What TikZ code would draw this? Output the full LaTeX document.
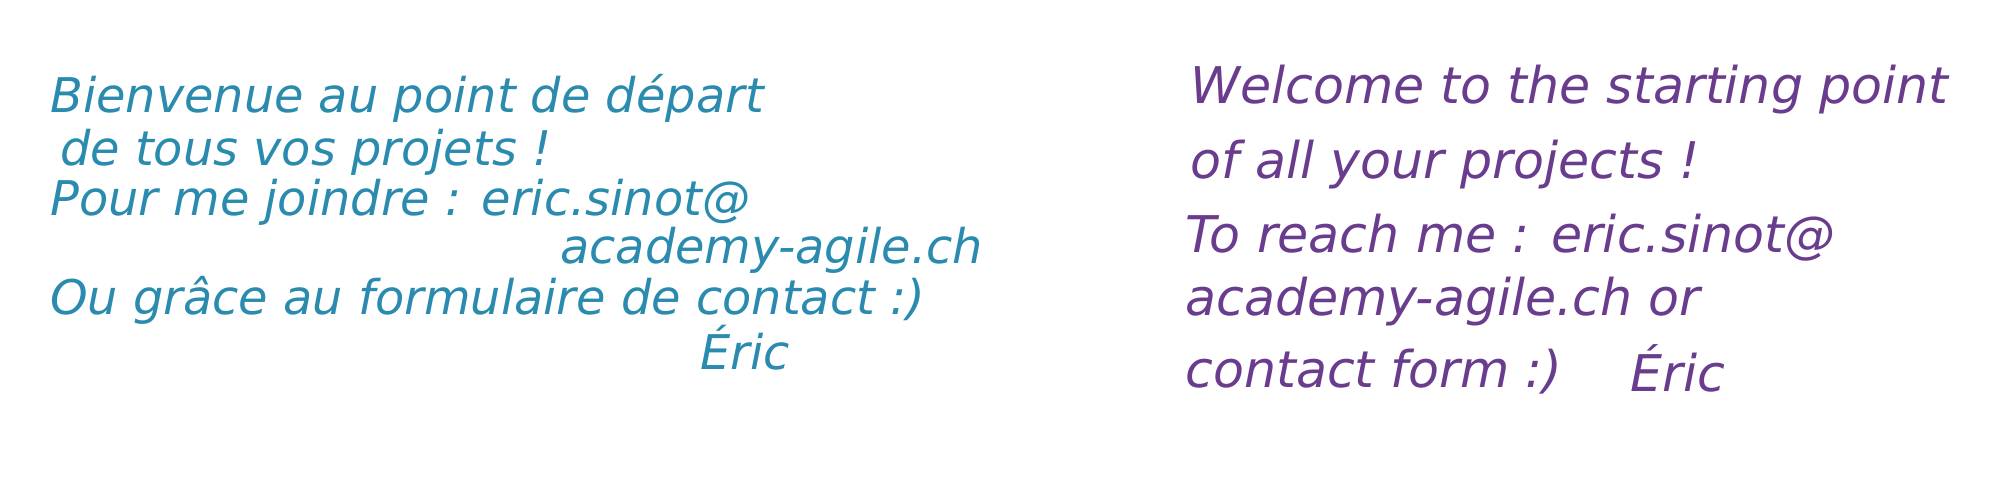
\documentclass[tikz,border=0pt]{standalone}
\usepackage{fontspec}
\setmainfont{DejaVu Sans}
\usetikzlibrary{positioning}
\definecolor{fr}{HTML}{2A8BAE}
\definecolor{en}{HTML}{6A3C8E}
\begin{document}
\begin{tikzpicture}[x=0.025cm, y=-0.025cm,
    frtext/.style={anchor=west, inner sep=0pt, text=fr, font=\fontsize{34}{40}\selectfont\itshape},
    entext/.style={anchor=west, inner sep=0pt, text=en, font=\fontsize{36}{44}\selectfont\itshape}
]
\useasboundingbox (0,0) rectangle (2000,491);

% french message
\node[frtext] (fr1) at (50,98) {Bienvenue au point de départ};
\node[frtext] (fr2) at (60,152) {de tous vos projets !};
\node[frtext] (fr3) at (50,202) {Pour me joindre : eric.sinot@};
\node[frtext] (fr4) at (560,250) {academy-agile.ch};
\node[frtext] (fr5) at (50,300) {Ou grâce au formulaire de contact :)};
\node[frtext] (fr6) at (700,348) {Éric};

% english message
\node[entext] (en1) at (1190,90) {Welcome to the starting point};
\node[entext] (en2) at (1190,165) {of all your projects !};
\node[entext] (en3) at (1185,238) {To reach me : eric.sinot@};
\node[entext] (en4) at (1185,302) {academy-agile.ch or};
\node[entext] (en5) at (1185,372) {contact form :)};
\node[entext] (en6) at (1630,368) {Éric};
\end{tikzpicture}
\end{document}
